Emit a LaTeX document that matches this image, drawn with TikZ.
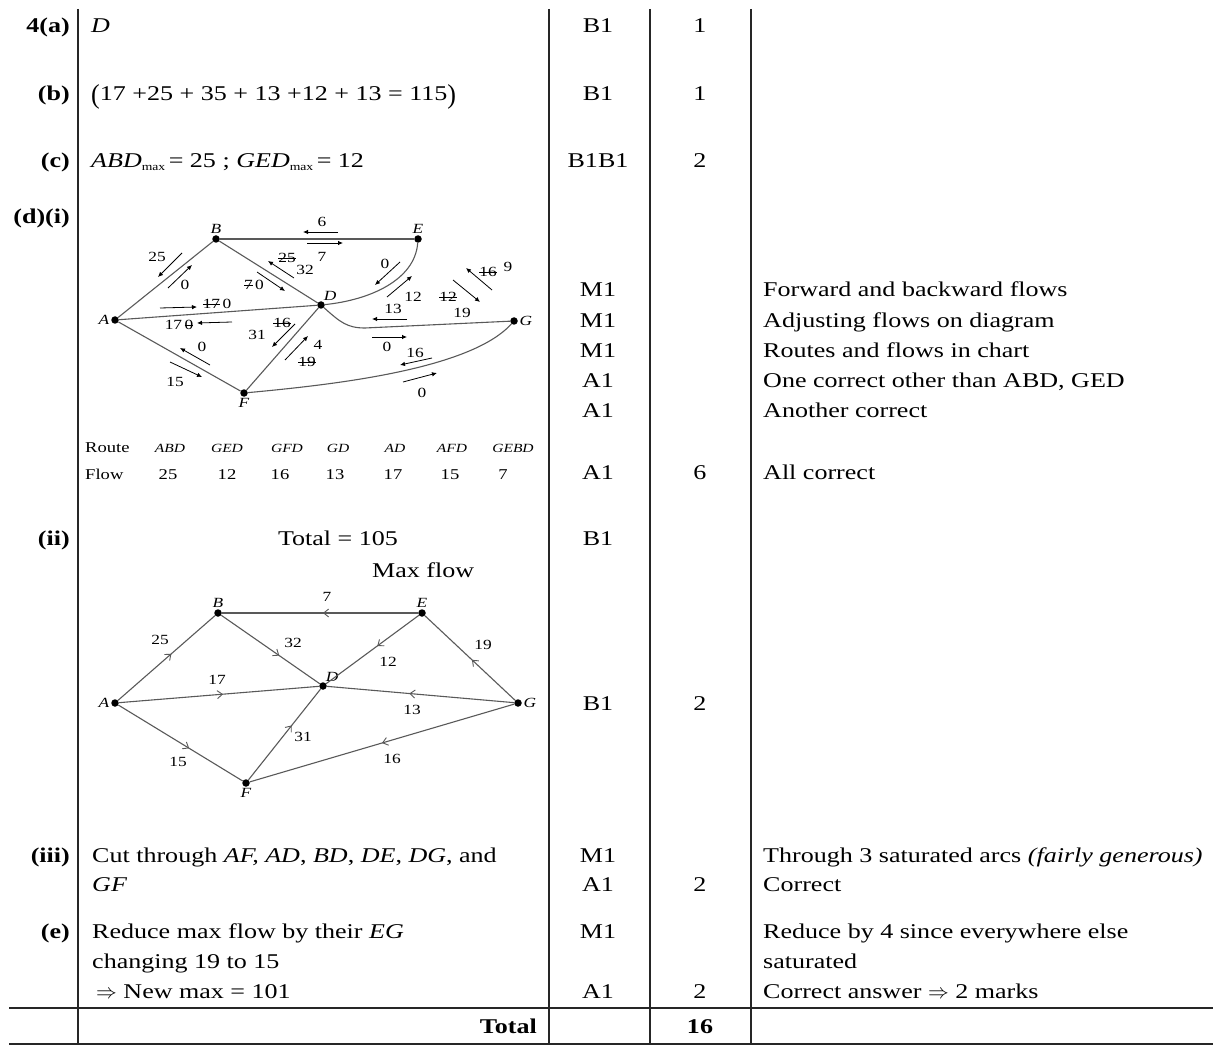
\documentclass[tikz,border=0pt]{standalone}
\usepackage{fontspec}
\usepackage{graphicx}
\setmainfont{Liberation Serif}[FakeStretch=1.24]
\usetikzlibrary{arrows.meta,decorations.markings}
\newcommand{\strk}[1]{\setbox0=\hbox{#1}\rlap{\rule[0.28em]{\wd0}{0.6pt}}\box0}
\begin{document}
\begin{tikzpicture}[x=1pt,y=-1pt,
  tx/.style={inner sep=0pt, font=\fontsize{21}{30}\selectfont},
  lab/.style={inner sep=0pt, anchor=base east, font=\fontsize{21}{30}\selectfont\bfseries},
  ans/.style={tx, anchor=base west},
  mk/.style={tx, anchor=base},
  cmnt/.style={tx, anchor=base west},
  tablerule/.style={line width=1.4pt, black!85},
  dot/.style={circle, fill=black, inner sep=0pt, minimum size=7.5pt},
  nl/.style={font=\fontsize{14}{14}\selectfont\itshape, inner sep=1.5pt},
  fl/.style={font=\fontsize{14}{14}\selectfont, inner sep=0pt},
  rt/.style={inner sep=0pt, anchor=base, font=\fontsize{12.5}{14}\selectfont\itshape},
  rn/.style={inner sep=0pt, anchor=base, font=\fontsize{15}{16}\selectfont},
  edg/.style={draw=black!65, line width=1.1pt},
  fa/.style={line width=0.8pt, -{Latex[length=5pt,width=4.5pt]}},
  midarr/.style={edg, postaction={decorate}, decoration={markings, mark=at position #1 with {\arrow{Straight Barb[length=5pt,width=8pt,line width=0.9pt]}}}}
]
\useasboundingbox (0,0) rectangle (1213,1059);
% ---------- table rules ----------
\draw[tablerule] (78,9) -- (78,1044);
\draw[tablerule] (549,9) -- (549,1044);
\draw[tablerule] (650,9) -- (650,1044);
\draw[tablerule] (751,9) -- (751,1044);
\draw[tablerule] (9,1008) -- (1213,1008);
\draw[tablerule] (9,1044) -- (1213,1044);
% ---------- left labels ----------
\node[lab] (la) at (70,33) {4(a)};
\node[lab] (lb) at (70,101) {(b)};
\node[lab] (lc) at (70,168) {(c)};
\node[lab] (ld) at (70,224) {(d)(i)};
\node[lab] (lii) at (70,545) {(ii)};
\node[lab] (liii) at (70,862) {(iii)};
\node[lab] (le) at (70,938) {(e)};
\node[lab] (ltot) at (537,1033) {Total};
% ---------- answers ----------
\node[ans] (aa) at (91,33) {\itshape D};
\node[ans] (ab) at (91,101) {\raisebox{-2.5pt}{\scalebox{1}[1.3]{(}}17 +25 + 35 + 13 +12 + 13 = 115\raisebox{-2.5pt}{\scalebox{1}[1.3]{)}}};
\node[ans] (ac) at (91,168) {\textit{ABD}\raisebox{-3pt}{\fontsize{11}{12}\selectfont max}\,= 25 ;\ \textit{GED}\raisebox{-3pt}{\fontsize{11}{12}\selectfont max}\,= 12};
\node[mk] (tot105) at (338,545) {Total = 105};
\node[ans] (maxf) at (372,577) {Max flow};
\node[ans] (aiii1) at (92,862) {Cut through \textit{AF, AD}, \textit{BD}, \textit{DE}, \textit{DG}, and};
\node[ans] (aiii2) at (92,891) {\textit{GF}};
\node[ans] (ae1) at (92,938) {Reduce max flow by their \textit{EG}};
\node[ans] (ae2) at (92,968) {changing 19 to 15};
\node[ans] (ae3) at (96,998) {$\Rightarrow$ New max = 101};
% ---------- marks ----------
\node[mk] (m1) at (598,33) {B1};
\node[mk] (m2) at (598,101) {B1};
\node[mk] (m3) at (598,168) {B1B1};
\node[mk] (m4) at (598,297) {M1};
\node[mk] (m5) at (598,327) {M1};
\node[mk] (m6) at (598,357) {M1};
\node[mk] (m7) at (598,387) {A1};
\node[mk] (m8) at (598,417) {A1};
\node[mk] (m9) at (598,479) {A1};
\node[mk] (m10) at (598,545) {B1};
\node[mk] (m11) at (598,710) {B1};
\node[mk] (m12) at (598,862) {M1};
\node[mk] (m13) at (598,891) {A1};
\node[mk] (m14) at (598,938) {M1};
\node[mk] (m15) at (598,998) {A1};
% ---------- totals ----------
\node[mk] (s1) at (700,33) {1};
\node[mk] (s2) at (700,101) {1};
\node[mk] (s3) at (700,168) {2};
\node[mk] (s4) at (700,479) {6};
\node[mk] (s5) at (700,710) {2};
\node[mk] (s6) at (700,891) {2};
\node[mk] (s7) at (700,998) {2};
\node[mk] (s8) at (700,1033) {\bfseries 16};
% ---------- comments ----------
\node[cmnt] (c1) at (763,297) {Forward and backward flows};
\node[cmnt] (c2) at (763,327) {Adjusting flows on diagram};
\node[cmnt] (c3) at (763,357) {Routes and flows in chart};
\node[cmnt] (c4) at (763,387) {One correct other than ABD, GED};
\node[cmnt] (c5) at (763,417) {Another correct};
\node[cmnt] (c6) at (763,479) {All correct};
\node[cmnt] (c7) at (763,862) {Through 3 saturated arcs \textit{(fairly generous)}};
\node[cmnt] (c8) at (763,891) {Correct};
\node[cmnt] (c9) at (763,938) {Reduce by 4 since everywhere else};
\node[cmnt] (c10) at (763,968) {saturated};
\node[cmnt] (c11) at (763,998) {Correct answer $\Rightarrow$ 2 marks};
% ---------- diagram 1 ----------
\node[dot,label={[nl]left:A}] (A) at (115,320) {};
\node[dot,label={[nl]above:B}] (B) at (216,239) {};
\node[dot,label={[nl,label distance=-1pt]65:D}] (D) at (321,305) {};
\node[dot,label={[nl]above:E}] (E) at (418,239) {};
\node[dot,label={[nl]right:G}] (G) at (514,321) {};
\node[dot,label={[nl]below:F}] (F) at (244,393) {};
\coordinate (dg) at (365,328);
\draw[edg] (A) -- (B);
\draw[edg] (B) -- (E);
\draw[edg] (B) -- (D);
\draw[edg] (A) -- (D);
\draw[edg] (A) -- (F);
\draw[edg] (F) -- (D);
\draw[edg] (D) .. controls (370,300) and (415,280) .. (E);
\draw[edg] (D) .. controls (340,322) and (347,328) .. (dg) -- (G);
\draw[edg] (F) .. controls (330,385) and (470,370) .. (G);
% flow annotations
\draw[fa] (182,253) -- (158,277);
\node[fl] (f1) at (157,257) {25};
\draw[fa] (168,288) -- (192,265);
\node[fl] (f2) at (185,285) {0};
\draw[fa] (338,232) -- (303,232);
\node[fl] (f3) at (322,222) {6};
\draw[fa] (307,243) -- (343,243);
\node[fl] (f4) at (322,257) {7};
\draw[fa] (294,278) -- (268,261);
\node[fl] (f5) at (287,258) {\strk{25}};
\node[fl] (f6) at (305,270) {32};
\draw[fa] (257,272) -- (285,291);
\node[fl] (f7) at (254,285) {\strk{7}\,0};
\draw[fa] (160,308) -- (197,307);
\node[fl] (f8) at (217,304) {\strk{17}\,0};
\draw[fa] (232,322) -- (197,323);
\node[fl] (f9) at (179,325) {17\,\strk{0}};
\draw[fa] (210,365) -- (180,348);
\node[fl] (f10) at (202,347) {0};
\draw[fa] (170,362) -- (202,377);
\node[fl] (f11) at (175,382) {15};
\draw[fa] (295,324) -- (272,347);
\node[fl] (f12) at (282,323) {\strk{16}};
\node[fl] (f13) at (257,335) {31};
\draw[fa] (285,360) -- (308,336);
\node[fl] (f14) at (318,345) {4};
\node[fl] (f15) at (307,362) {\strk{19}};
\draw[fa] (400,262) -- (375,285);
\node[fl] (f16) at (385,264) {0};
\draw[fa] (387,297) -- (412,276);
\node[fl] (f17) at (413,297) {12};
\draw[fa] (407,319) -- (372,319);
\node[fl] (f18) at (393,309) {13};
\draw[fa] (372,337) -- (407,337);
\node[fl] (f19) at (387,347) {0};
\draw[fa] (492,290) -- (466,268);
\node[fl] (f20) at (488,272) {\strk{16}};
\node[fl] (f21) at (508,267) {9};
\draw[fa] (453,280) -- (480,302);
\node[fl] (f22) at (448,297) {\strk{12}};
\node[fl] (f23) at (462,313) {19};
\draw[fa] (432,358) -- (400,365);
\node[fl] (f24) at (415,353) {16};
\draw[fa] (403,382) -- (437,373);
\node[fl] (f25) at (422,393) {0};
% route table
\node[rn, anchor=base west] (rt0) at (85,452) {Route};
\node[rt] (rt1) at (170,452) {ABD};
\node[rt] (rt2) at (227,452) {GED};
\node[rt] (rt3) at (287,452) {GFD};
\node[rt] (rt4) at (338,452) {GD};
\node[rt] (rt5) at (395,452) {AD};
\node[rt] (rt6) at (452,452) {AFD};
\node[rt] (rt7) at (513,452) {GEBD};
\node[rn, anchor=base west] (fw0) at (85,479) {Flow};
\node[rn] (fw1) at (168,479) {25};
\node[rn] (fw2) at (227,479) {12};
\node[rn] (fw3) at (280,479) {16};
\node[rn] (fw4) at (335,479) {13};
\node[rn] (fw5) at (393,479) {17};
\node[rn] (fw6) at (450,479) {15};
\node[rn] (fw7) at (503,479) {7};
% ---------- diagram 2 ----------
\node[dot,label={[nl]left:A}] (A2) at (115,703) {};
\node[dot,label={[nl]above:B}] (B2) at (218,613) {};
\node[dot,label={[nl,label distance=-1pt]65:D}] (D2) at (323,686) {};
\node[dot,label={[nl]above:E}] (E2) at (422,613) {};
\node[dot,label={[nl]right:G}] (G2) at (518,703) {};
\node[dot,label={[nl]below:F}] (F2) at (246,783) {};
\draw[midarr=0.55] (A2) -- (B2);
\draw[midarr=0.59] (B2) -- (D2);
\draw[midarr=0.52] (A2) -- (D2);
\draw[midarr=0.57] (A2) -- (F2);
\draw[midarr=0.6] (F2) -- (D2);
\draw[midarr=0.485] (E2) -- (B2);
\draw[midarr=0.45] (E2) -- (D2);
\draw[midarr=0.48] (G2) -- (E2);
\draw[midarr=0.56] (G2) -- (D2);
\draw[midarr=0.5] (G2) -- (F2);
\node[fl] (g1) at (160,640) {25};
\node[fl] (g2) at (293,643) {32};
\node[fl] (g3) at (217,680) {17};
\node[fl] (g4) at (178,762) {15};
\node[fl] (g5) at (303,737) {31};
\node[fl] (g6) at (327,597) {7};
\node[fl] (g7) at (388,662) {12};
\node[fl] (g8) at (483,645) {19};
\node[fl] (g9) at (412,710) {13};
\node[fl] (g10) at (392,759) {16};
\end{tikzpicture}
\end{document}
